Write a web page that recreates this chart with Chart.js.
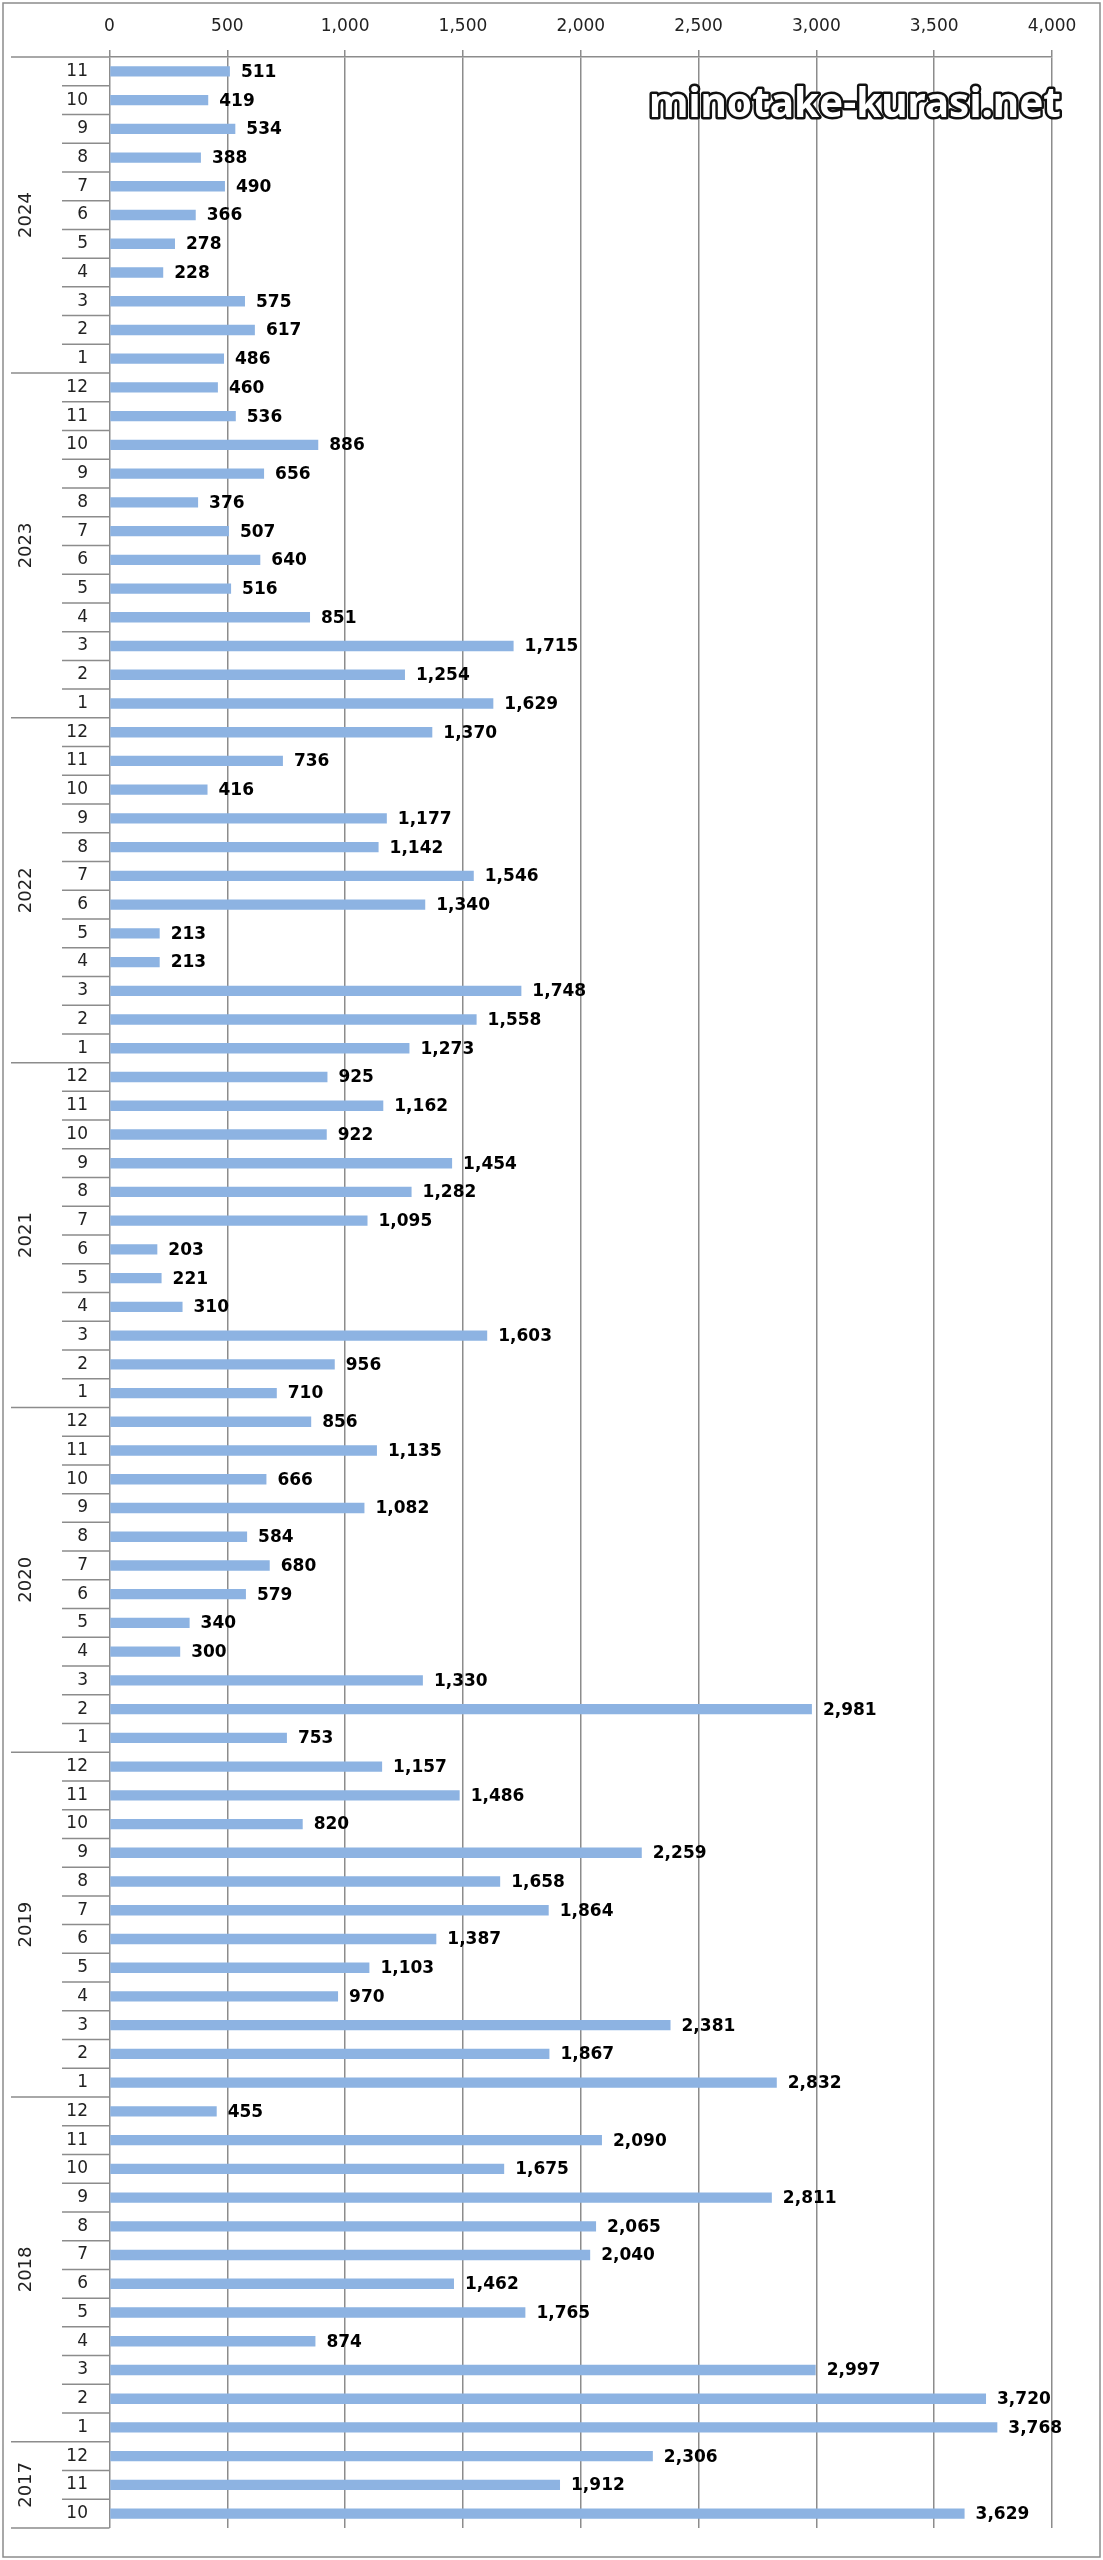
<!DOCTYPE html>
<html>
<head>
<meta charset="utf-8">
<script src="https://cdn.jsdelivr.net/npm/chart.js@4.4.1/dist/chart.umd.min.js"></script>
<style>
  html, body { margin: 0; padding: 0; background: #fff; }
  #wrap { position: relative; width: 1103px; height: 2560px; }
</style>
</head>
<body>
<div id="wrap"><canvas id="chart"></canvas></div>
<script>
// years, top to bottom as in the picture
const years = ['2024', '2023', '2022', '2021', '2020', '2019', '2018', '2017'];

// months shown for each year (top to bottom)
const months2024 = [11, 10, 9, 8, 7, 6, 5, 4, 3, 2, 1];
const monthsFull = [12, 11, 10, 9, 8, 7, 6, 5, 4, 3, 2, 1];
const months2017 = [12, 11, 10];

// values per year, same order as the months above
const sales2024 = [511, 419, 534, 388, 490, 366, 278, 228, 575, 617, 486];
const sales2023 = [460, 536, 886, 656, 376, 507, 640, 516, 851, 1715, 1254, 1629];
const sales2022 = [1370, 736, 416, 1177, 1142, 1546, 1340, 213, 213, 1748, 1558, 1273];
const sales2021 = [925, 1162, 922, 1454, 1282, 1095, 203, 221, 310, 1603, 956, 710];
const sales2020 = [856, 1135, 666, 1082, 584, 680, 579, 340, 300, 1330, 2981, 753];
const sales2019 = [1157, 1486, 820, 2259, 1658, 1864, 1387, 1103, 970, 2381, 1867, 2832];
const sales2018 = [455, 2090, 1675, 2811, 2065, 2040, 1462, 1765, 874, 2997, 3720, 3768];
const sales2017 = [2306, 1912, 3629];

const xTicks = [0, 500, 1000, 1500, 2000, 2500, 3000, 3500, 4000];

const yearMonths = [months2024, monthsFull, monthsFull, monthsFull, monthsFull, monthsFull, monthsFull, months2017];
const yearSales = [sales2024, sales2023, sales2022, sales2021, sales2020, sales2019, sales2018, sales2017];

// flatten into one category list, remembering where each year starts/ends
const labels = [];
const values = [];
const groups = [];
years.forEach((yr, i) => {
  const start = labels.length;
  yearMonths[i].forEach((m, j) => {
    labels.push(yr + '-' + m);
    values.push(yearSales[i][j]);
  });
  groups.push({ year: yr, start: start, end: labels.length - 1 });
});

const LINE = '#8c8c8c';
const FONT = '"DejaVu Sans", Verdana, sans-serif';

// category labels, separators, border, value labels, watermark
const decor = {
  id: 'decor',
  afterDatasetsDraw(chart) {
    const ctx = chart.ctx;
    const meta = chart.getDatasetMeta(0);
    ctx.save();
    ctx.fillStyle = '#000';
    ctx.font = 'bold 17px ' + FONT;
    ctx.textAlign = 'left';
    ctx.textBaseline = 'middle';
    meta.data.forEach((bar, i) => {
      ctx.fillText(values[i].toLocaleString('en-US'), bar.x + 11, bar.y + 1);
    });
    ctx.restore();
  },
  afterDraw(chart) {
    const ctx = chart.ctx;
    const y = chart.scales.y;
    const area = chart.chartArea;
    const step = y.getPixelForValue(1) - y.getPixelForValue(0);
    const left = area.left;

    ctx.save();
    ctx.strokeStyle = LINE;
    ctx.lineWidth = 1.5;

    // outer frame
    ctx.strokeRect(3, 3, 1097, 2554);

    // row separators in the label column
    ctx.beginPath();
    labels.forEach((lab, i) => {
      const top = y.getPixelForValue(i) - step / 2;
      const yearStart = groups.some(g => g.start === i);
      ctx.moveTo(yearStart ? 11 : 62, top);
      ctx.lineTo(left, top);
    });
    ctx.moveTo(11, area.bottom);
    ctx.lineTo(left, area.bottom);
    ctx.stroke();

    // month labels
    ctx.fillStyle = '#222';
    ctx.font = '17px ' + FONT;
    ctx.textAlign = 'right';
    ctx.textBaseline = 'middle';
    labels.forEach((lab, i) => {
      ctx.fillText(lab.split('-')[1], 88, y.getPixelForValue(i));
    });

    // year labels, rotated
    ctx.font = '18px ' + FONT;
    ctx.textAlign = 'center';
    groups.forEach(g => {
      const cy = (y.getPixelForValue(g.start) + y.getPixelForValue(g.end)) / 2;
      ctx.save();
      ctx.translate(26, cy);
      ctx.rotate(-Math.PI / 2);
      ctx.fillText(g.year, 0, 0);
      ctx.restore();
    });

    // watermark
    const text = 'minotake-kurasi.net';
    ctx.font = 'bold 40px "Noto Sans", sans-serif';
    const w = ctx.measureText(text).width;
    const size = 40 * 412 / w;
    ctx.font = 'bold ' + size + 'px "Noto Sans", sans-serif';
    ctx.textAlign = 'left';
    ctx.textBaseline = 'alphabetic';
    ctx.lineJoin = 'round';
    ctx.lineWidth = 5;
    ctx.strokeStyle = '#111';
    ctx.strokeText(text, 649, 117);
    ctx.fillStyle = '#fff';
    ctx.fillText(text, 649, 117);
    ctx.restore();
  }
};

new Chart(document.getElementById('chart'), {
  type: 'bar',
  data: {
    labels: labels,
    datasets: [{
      data: values,
      backgroundColor: '#8db3e2',
      borderWidth: 0,
      barPercentage: 0.36,
      categoryPercentage: 1
    }]
  },
  options: {
    indexAxis: 'y',
    responsive: true,
    maintainAspectRatio: false,
    animation: false,
    devicePixelRatio: 1,
    layout: { padding: { top: 0, left: 109.5, right: 51, bottom: 32 } },
    plugins: {
      legend: { display: false },
      tooltip: { enabled: false }
    },
    scales: {
      x: {
        position: 'top',
        min: 0,
        max: 4000,
        afterBuildTicks: (scale) => { scale.ticks = xTicks.map(v => ({ value: v })); },
        afterFit: (scale) => { scale.height = 57; },
        grid: { color: LINE, lineWidth: 1.5, tickLength: 7, drawTicks: true },
        border: { display: true, color: LINE, width: 1.5 },
        ticks: {
          padding: 13,
          color: '#222',
          font: { family: FONT, size: 17 },
          callback: (v) => Number(v).toLocaleString('en-US')
        }
      },
      y: {
        display: false,
        offset: true
      }
    }
  },
  plugins: [decor]
});
</script>
</body>
</html>
